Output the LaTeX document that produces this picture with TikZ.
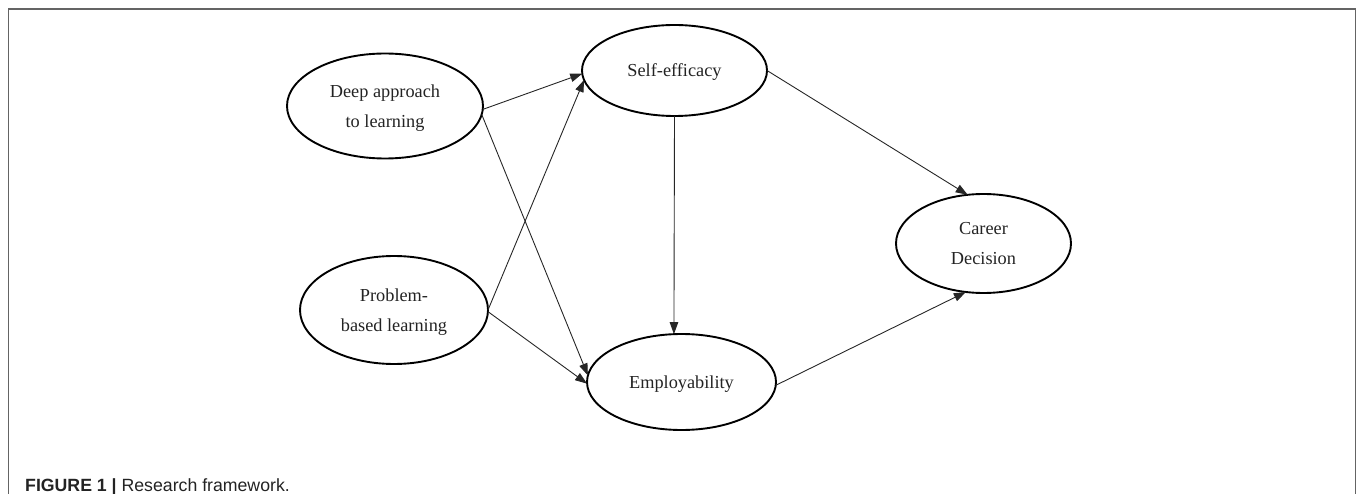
\documentclass[tikz,border=0pt]{standalone}
\usepackage{fontspec}
\setmainfont{Liberation Serif}
\newfontfamily\capfont{Liberation Sans}
\usetikzlibrary{arrows.meta,shapes.geometric}
\definecolor{framegray}{RGB}{100,100,100}
\definecolor{txt}{RGB}{35,35,35}
\begin{document}
\begin{tikzpicture}[x=1pt,y=-1pt,
  construct/.style={draw=black,line width=1.9pt,ellipse,inner sep=0pt,outer sep=0pt,
    align=center,text=txt,text depth=-1pt,font=\fontsize{18.3}{30}\selectfont},
  link/.style={draw=black!85,line width=0.9pt,-{Triangle[length=12pt,width=8.5pt]}}]
\useasboundingbox (0,0) rectangle (1357,494);
\draw[framegray,line width=1.5pt] (8.5,494) -- (8.5,9) -- (1355.5,9) -- (1355.5,494);

\node[construct,minimum width=196pt,minimum height=105pt] (deep) at (385,106) {Deep approach\\to learning};
\node[construct,minimum width=188pt,minimum height=108pt] (prob) at (394,310) {Problem-\\based learning};
\node[construct,minimum width=185pt,minimum height=91pt] (self) at (674.5,70.5) {Self-efficacy};
\node[construct,minimum width=189pt,minimum height=96pt] (emp) at (681.5,382) {Employability};
\node[construct,minimum width=175pt,minimum height=99pt] (car) at (983.5,243.5) {Career\\Decision};

\draw[link] (deep.-2) -- (self.182);
\draw[link] (deep.-5) -- (emp.176);
\draw[link] (prob.0) -- (self.186);
\draw[link] (prob.-1) -- (emp.181);
\draw[link] (self.south) -- (emp.99);
\draw[link] (self.0) -- (car.108);
\draw[link] (emp.-2.5) -- (car.250);

\node[anchor=base west,inner sep=0pt,text=txt,font=\capfont\fontsize{17.7}{20}\selectfont] (cap) at (25,491)
  {\textbf{FIGURE 1 |} Research framework.};
\end{tikzpicture}
\end{document}
